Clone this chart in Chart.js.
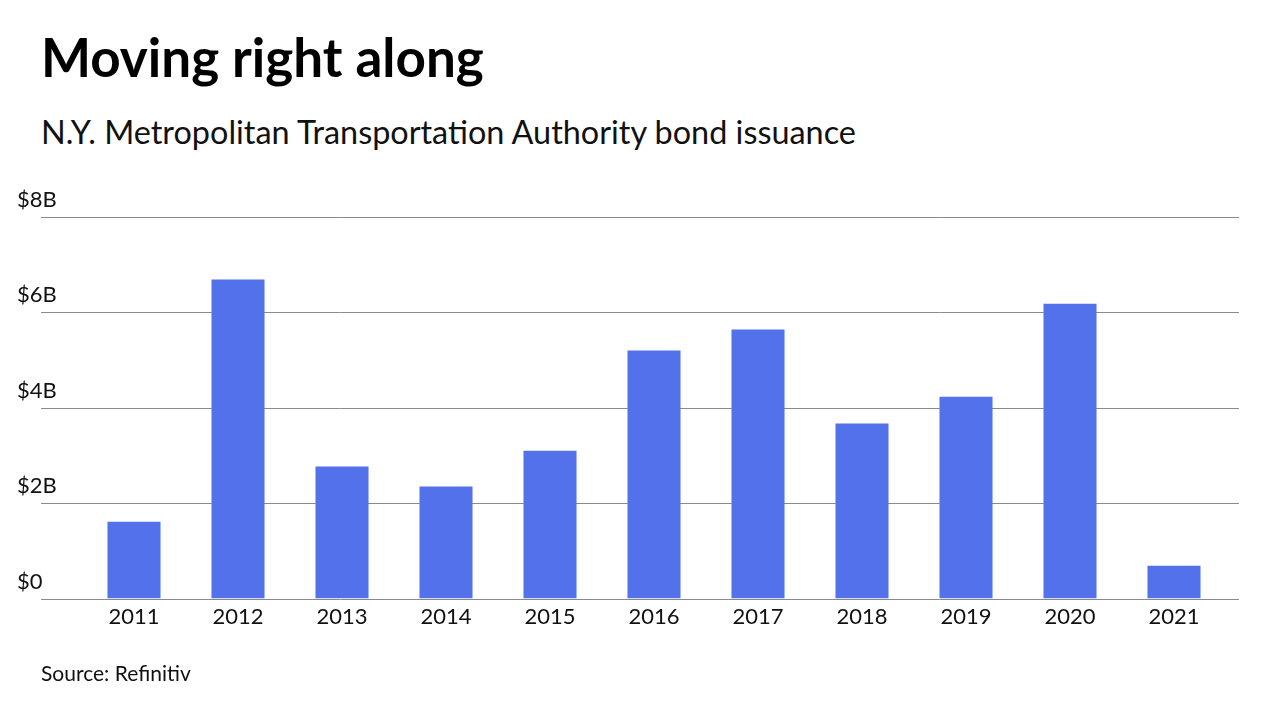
<!DOCTYPE html>
<html>
<head>
<meta charset="utf-8">
<script src="https://cdn.jsdelivr.net/npm/chart.js@4"></script>
<style>
    body { margin: 0; width: 1280px; height: 720px; background: #fff; font-family: Lato, sans-serif; position: relative; overflow: hidden; }
    #titulo { position: absolute; left: 41px; top: 25px; font-size: 53px; font-weight: bold; color: #000; margin: 0; }
    #subtitulo { position: absolute; left: 41px; top: 112px; font-size: 32.4px; color: #111; margin: 0; }
    #fonte { position: absolute; left: 41px; top: 660px; font-size: 21px; color: #111; margin: 0; }
    #grafico { position: absolute; left: 0; top: 0; }
</style>
</head>
<body>
<h1 id="titulo">Moving right along</h1>
<p id="subtitulo">N.Y. Metropolitan Transportation Authority bond issuance</p>
<canvas id="grafico" width="1280" height="720"></canvas>
<p id="fonte">Source: Refinitiv</p>
<script>
const anos = ['2011', '2012', '2013', '2014', '2015', '2016', '2017', '2018', '2019', '2020', '2021'];
const emissoes = [1.61, 6.69, 2.77, 2.35, 3.10, 5.20, 5.64, 3.67, 4.23, 6.18, 0.69]; // bilhões de US$
const ticksY = [0, 2, 4, 6, 8];
const rotulosY = ['$0', '$2B', '$4B', '$6B', '$8B'];

Chart.defaults.font.family = 'Lato, sans-serif';
Chart.defaults.color = '#111';

// linhas de grade horizontais, um pouco mais largas que a área do gráfico
const linhasGrade = {
    id: 'linhasGrade',
    beforeDatasetsDraw(chart) {
        const y = chart.scales.y;
        const c = chart.ctx;
        c.save();
        c.strokeStyle = '#8a8a8a';
        c.lineWidth = 1;
        ticksY.forEach(v => {
            const py = Math.round(y.getPixelForValue(v)) + 0.5;
            c.beginPath();
            c.moveTo(41, py);
            c.lineTo(1239, py);
            c.stroke();
        });
        c.restore();
    },
};

const ctx = document.getElementById('grafico').getContext('2d');
new Chart(ctx, {
    type: 'bar',
    data: {
        labels: anos,
        datasets: [{
            data: emissoes,
            backgroundColor: '#5271eb',
            barPercentage: 0.51,
            categoryPercentage: 1,
        }],
    },
    options: {
        responsive: false,
        animation: false,
        layout: { padding: { left: 17, right: 54, top: 217, bottom: 85 } },
        plugins: { legend: { display: false }, tooltip: { enabled: false } },
        scales: {
            x: {
                grid: { display: false, drawTicks: false },
                border: { display: false },
                ticks: { font: { size: 22 }, padding: 5, maxRotation: 0 },
            },
            y: {
                min: 0,
                max: 8,
                afterBuildTicks: scale => { scale.ticks = ticksY.map(v => ({ value: v })); },
                afterFit: scale => { scale.width = 65; },
                border: { display: false },
                grid: { display: false },
                ticks: {
                    font: { size: 22 },
                    crossAlign: 'far',
                    labelOffset: -17,
                    padding: 0,
                    callback: (v) => rotulosY[ticksY.indexOf(v)],
                },
            },
        },
    },
    plugins: [linhasGrade],
});
</script>
</body>
</html>
